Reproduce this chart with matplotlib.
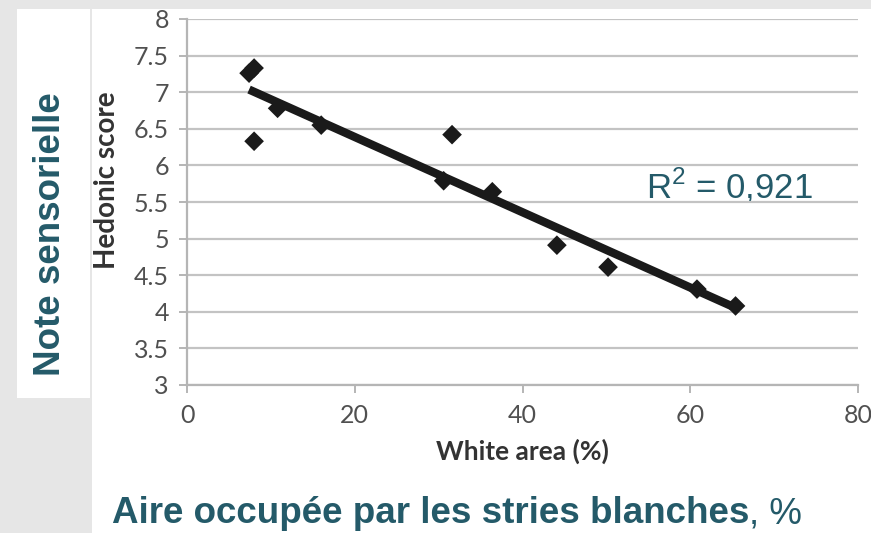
import matplotlib.pyplot as plt
from matplotlib.patches import Rectangle
import numpy as np

# données
white_area = [7.4, 8.0, 8.0, 10.8, 16.0, 30.6, 31.6, 36.4, 44.1, 50.2, 60.8, 65.4]
hedonic = [7.26, 7.33, 6.33, 6.78, 6.55, 5.79, 6.42, 5.64, 4.91, 4.61, 4.31, 4.08]
x_ticks = [0, 20, 40, 60, 80]
y_ticks = [3, 3.5, 4, 4.5, 5, 5.5, 6, 6.5, 7, 7.5, 8]
y_labels = ['3', '3.5', '4', '4.5', '5', '5.5', '6', '6.5', '7', '7.5', '8']
r2_text = r'R$^{\mathregular{2}}$ = 0,921'

plt.rcParams['mathtext.fontset'] = 'custom'
plt.rcParams['mathtext.rm'] = 'Liberation Sans'

teal = '#245a69'
W, H = 871, 533

fig = plt.figure(figsize=(8.71, 5.33), dpi=100, facecolor='#e6e6e6')


def px_rect(x0, y0, x1, y1, color):
    # rectangle en pixels (origine en haut à gauche)
    fig.patches.append(Rectangle((x0 / W, 1 - y1 / H), (x1 - x0) / W, (y1 - y0) / H,
                                 transform=fig.transFigure, facecolor=color,
                                 edgecolor='none', zorder=-10))


px_rect(17, 9, 90, 398, 'white')
px_rect(92, 9, W, H, 'white')

ax = fig.add_axes([187 / W, (H - 385) / H, (858 - 187) / W, (385 - 19) / H])
ax.set_facecolor('none')
ax.set_zorder(5)

ax.scatter(white_area, hedonic, marker='D', s=100, color='#1a1a1a', zorder=3,
           edgecolors='none')

# courbe de tendance linéaire
a, b = np.polyfit(white_area, hedonic, 1)
xs = np.array([min(white_area), max(white_area)])
ax.plot(xs, a * xs + b, color='#1a1a1a', lw=6, solid_capstyle='butt', zorder=4)

ax.set_xlim(0, 80)
ax.set_ylim(3, 8)
ax.set_xticks(x_ticks)
ax.set_yticks(y_ticks)
ax.set_yticklabels(y_labels)
ax.yaxis.grid(True, color='#c3c3c3', lw=1.6)
ax.set_axisbelow(True)
for s in ['top', 'right']:
    ax.spines[s].set_visible(False)
for s in ['left', 'bottom']:
    ax.spines[s].set_color('#b5b5b5')
    ax.spines[s].set_linewidth(1.6)
ax.tick_params(axis='both', colors='#b5b5b5', width=1.4, length=6,
               labelcolor='#505050', labelsize=18)
for lab in ax.get_xticklabels() + ax.get_yticklabels():
    lab.set_family('Lato')
ax.tick_params(axis='x', pad=8)
ax.tick_params(axis='y', pad=7)

ax.set_xlabel('White area (%)', family='Lato', fontweight='bold', fontsize=19,
              color='#333333', labelpad=8)
ax.set_ylabel('Hedonic score', family='Lato', fontweight='bold', fontsize=20,
              color='#333333', labelpad=10)
ax.yaxis.label.set_y(0.56)

fig.text(646 / W, 1 - 198 / H, r2_text, ha='left', va='baseline', color=teal,
         fontsize=25, family='Liberation Sans')

fig.text(51 / W, 1 - 234 / H, 'Note sensorielle', rotation=90, ha='center',
         va='center', color=teal, fontsize=26.5, fontweight='bold',
         family='Liberation Sans')
t1 = fig.text(112 / W, 1 - 523 / H, 'Aire occupée par les stries blanches',
              ha='left', va='baseline', color=teal, fontsize=26.5,
              fontweight='bold', family='Liberation Sans')
ax.annotate(', %', xy=(1, 0), xycoords=t1, ha='left', va='bottom', color=teal,
            fontsize=26.5, family='Liberation Sans', annotation_clip=False)

fig.savefig('out.png', dpi=100, facecolor=fig.get_facecolor())
